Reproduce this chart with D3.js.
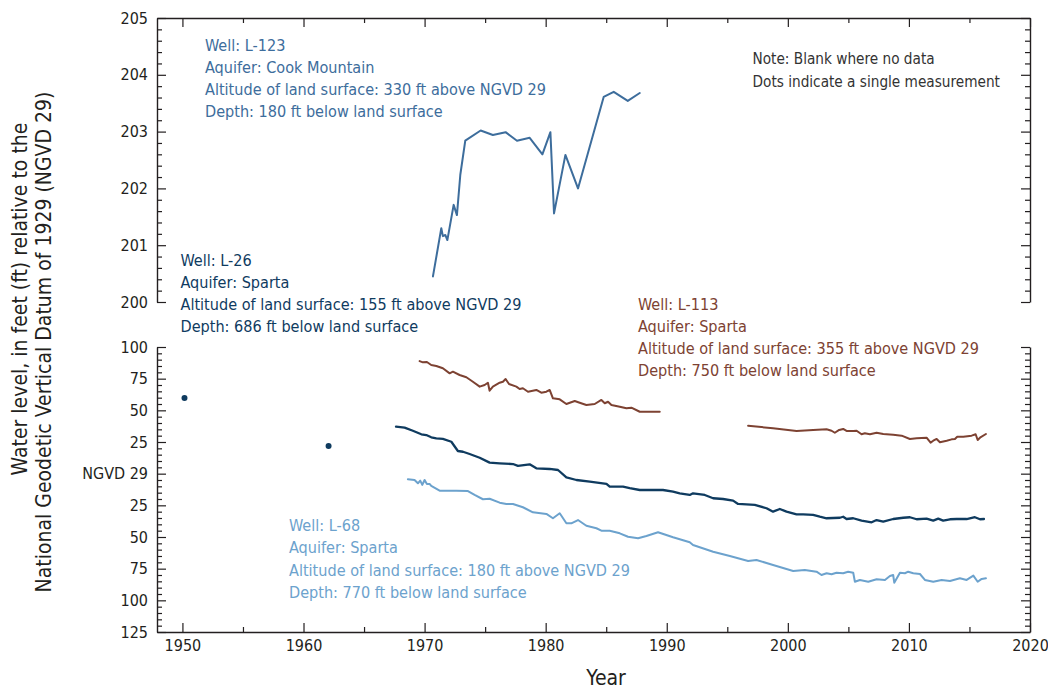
<!DOCTYPE html>
<html>
<head>
<meta charset="utf-8">
<script src="https://cdn.jsdelivr.net/npm/d3@7"></script>
<style>
  html, body { margin: 0; padding: 0; background: #fff; }
  svg { display: block; }
  text { font-family: "Liberation Sans Narrow", "Arial Narrow", "DejaVu Sans Condensed", sans-serif; }
</style>
</head>
<body>
<svg id="chart" width="1048" height="690"></svg>
<script>
// ---------------- Data ----------------
const xMajorTicks = [1950, 1960, 1970, 1980, 1990, 2000, 2010, 2020];
const xMinorTicks = [1955, 1965, 1975, 1985, 1995, 2005, 2015];
const topMajorTicks = [200, 201, 202, 203, 204, 205];
const bottomMajorTicks = [100, 75, 50, 25, 0, -25, -50, -75, -100, -125];
const bottomTickLabels = ["100", "75", "50", "25", "NGVD 29", "25", "50", "75", "100", "125"];

// Well L-123 (Cook Mountain) - top panel
const l123Years = [1970.69,1971.38,1971.51,1971.71,1971.88,1972.40,1972.67,1972.95,1973.36,1974.63,1975.64,1976.69,1977.63,1978.68,1979.73,1980.39,1980.69,1981.63,1982.67,1984.79,1985.62,1986.78,1987.77];
const l123Values = [200.45,201.30,201.16,201.18,201.09,201.71,201.53,202.24,202.84,203.02,202.94,202.99,202.84,202.89,202.60,202.99,201.56,202.59,202.00,203.61,203.70,203.54,203.68];

// Well L-113 (Sparta) - null marks a gap with no data
const l113Years = [1969.59,1969.86,1970.19,1970.55,1970.97,1971.51,1972.07,1972.34,1972.89,1973.45,1973.99,1974.55,1974.96,1975.23,1975.37,1975.64,1976.20,1976.47,1976.69,1976.97,1977.58,1977.85,1978.12,1978.54,1979.23,1979.64,1980.06,1980.33,1980.60,1981.16,1981.71,1982.40,1982.81,1983.36,1984.05,1984.60,1984.88,1985.15,1985.43,1986.12,1986.67,1987.08,1987.77,1989.42,
  1993.0,
  1996.72,1998.78,2000.72,2002.09,2003.20,2003.61,2003.88,2004.24,2004.57,2004.85,2005.40,2005.68,2006.09,2006.36,2006.78,2007.33,2007.88,2008.70,2009.40,2010.08,2010.64,2011.46,2011.79,2012.01,2012.29,2012.56,2013.12,2013.53,2013.80,2013.99,2014.49,2015.18,2015.51,2015.68,2015.87,2016.36];
const l113Values = [88.9,87.9,88.2,85.8,85.0,83.2,79.2,80.5,77.9,76.1,72.6,68.7,70.0,71.8,65.5,68.7,71.8,72.6,74.7,70.8,68.7,66.8,67.4,64.7,66.1,63.9,64.7,66.1,59.5,58.7,55.0,57.4,56.0,54.2,55.0,58.2,55.6,56.8,54.2,52.9,51.6,52.1,48.9,48.9,
  null,
  37.9,35.8,33.7,34.5,35.0,33.9,32.3,34.5,35.3,33.7,33.7,33.9,31.1,31.9,31.1,32.3,31.3,30.8,30.0,27.4,27.9,28.4,24.5,26.0,27.4,24.8,26.0,27.1,27.4,29.2,29.2,30.0,31.1,26.6,28.4,31.3];

// Well L-26 (Sparta)
const l26Years = [1967.64,1968.35,1969.03,1969.73,1970.14,1970.55,1970.97,1971.51,1972.21,1972.75,1973.17,1973.72,1974.55,1975.37,1976.20,1977.30,1977.71,1978.68,1979.23,1980.33,1981.02,1981.71,1982.54,1983.64,1985.02,1985.29,1986.39,1986.94,1987.77,1989.69,1990.52,1991.07,1991.90,1992.17,1993.14,1993.83,1994.65,1995.48,1995.89,1997.27,1998.24,1998.78,1999.34,1999.89,2000.72,2001.26,2002.09,2002.64,2003.20,2004.30,2004.57,2004.85,2005.40,2006.09,2006.92,2007.33,2007.88,2008.70,2009.53,2010.08,2010.64,2011.46,2012.01,2012.42,2012.83,2013.39,2013.94,2014.77,2015.45,2015.87,2016.20];
const l26Values = [37.1,36.3,33.9,31.1,30.5,28.7,27.9,27.4,25.2,17.9,17.3,15.5,12.6,8.7,8.2,7.6,6.1,7.4,4.2,3.7,2.9,-2.9,-5.0,-6.3,-8.1,-10.3,-10.3,-11.5,-12.9,-12.9,-14.2,-15.5,-16.8,-15.5,-16.8,-19.4,-20.0,-21.3,-23.9,-24.7,-27.3,-30.0,-27.9,-30.0,-32.1,-32.1,-32.6,-34.0,-35.2,-34.8,-34.0,-35.8,-35.2,-37.1,-38.4,-36.6,-37.9,-35.8,-34.8,-34.4,-36.0,-35.5,-37.1,-35.5,-37.1,-36.0,-35.8,-35.8,-34.4,-36.0,-35.8];
const l26DotYears = [1950.17, 1962.07];
const l26DotValues = [59.7, 21.8];

// Well L-68 (Sparta)
const l68Years = [1968.62,1969.17,1969.45,1969.64,1969.81,1970.00,1970.19,1970.41,1970.55,1971.24,1972.62,1973.58,1974.13,1974.82,1975.37,1976.20,1976.75,1977.30,1978.12,1978.95,1980.06,1980.60,1981.16,1981.71,1982.12,1982.67,1983.36,1984.19,1984.60,1985.29,1986.12,1986.80,1987.63,1988.32,1989.28,1990.52,1991.90,1992.17,1993.83,1995.21,1996.72,1997.41,1998.78,2000.44,2001.40,2002.37,2002.78,2003.20,2003.61,2004.02,2004.57,2004.98,2005.40,2005.54,2005.95,2006.64,2007.33,2008.02,2008.43,2008.70,2008.79,2009.26,2009.67,2009.94,2010.36,2010.91,2011.32,2012.01,2012.70,2013.39,2014.21,2014.77,2015.32,2015.68,2016.01,2016.36];
const l68Values = [-4.4,-5.0,-7.6,-5.5,-8.9,-5.0,-8.1,-8.1,-9.7,-13.4,-13.4,-13.7,-16.8,-20.2,-19.8,-22.9,-23.9,-23.9,-26.5,-30.5,-31.8,-35.2,-31.3,-39.2,-39.2,-36.6,-41.1,-43.1,-45.0,-45.0,-47.1,-49.8,-51.0,-49.2,-46.3,-50.2,-54.2,-56.3,-61.6,-65.0,-68.9,-68.1,-72.1,-76.8,-76.0,-77.4,-80.0,-78.6,-79.4,-78.2,-78.6,-77.4,-78.2,-85.3,-83.9,-85.3,-83.4,-83.9,-80.8,-80.0,-86.1,-78.2,-78.6,-77.4,-78.6,-79.2,-83.9,-85.3,-83.9,-84.7,-82.6,-83.9,-80.5,-85.3,-83.1,-82.6];

// Annotation texts
const l123Label = ["Well: L-123", "Aquifer: Cook Mountain", "Altitude of land surface: 330 ft above NGVD 29", "Depth: 180 ft below land surface"];
const l26Label = ["Well: L-26", "Aquifer: Sparta", "Altitude of land surface: 155 ft above NGVD 29", "Depth: 686 ft below land surface"];
const l113Label = ["Well: L-113", "Aquifer: Sparta", "Altitude of land surface: 355 ft above NGVD 29", "Depth: 750 ft below land surface"];
const l68Label = ["Well: L-68", "Aquifer: Sparta", "Altitude of land surface: 180 ft above NGVD 29", "Depth: 770 ft below land surface"];
const noteLabel = ["Note: Blank where no data", "Dots indicate a single measurement"];
const yTitle = ["Water level, in feet (ft) relative to the", "National Geodetic Vertical Datum of 1929 (NGVD 29)"];
const xTitle = "Year";

// ---------------- Layout ----------------
const colors = { l123: "#3d6d9c", l26: "#0f3b5f", l113: "#7d4232", l68: "#6ca2cd", axis: "#231f20", note: "#333333" };
const left = 157, right = 1030;
const topPanel = { y0: 18, y1: 302 };
const botPanel = { y0: 347, y1: 632 };

const svg = d3.select("#chart");
const x = d3.scaleLinear().domain([1947.9, 2020]).range([left, right]);
const yTop = d3.scaleLinear().domain([200, 205]).range([topPanel.y1, topPanel.y0]);
const yBot = d3.scaleLinear().domain([-125, 100]).range([botPanel.y1, botPanel.y0]);

const MAJ = 9, MIN = 5;
const fontTick = 16;

function styleAxis(g) {
  g.selectAll(".domain").attr("stroke", colors.axis).attr("stroke-width", 1.4);
  g.selectAll(".tick line").attr("stroke", colors.axis).attr("stroke-width", 1.2);
  g.selectAll(".tick text").attr("fill", colors.axis).style("font-size", fontTick + "px")
    .style("font-family", '"Liberation Sans Narrow", "Arial Narrow", "DejaVu Sans Condensed", sans-serif');
  g.attr("font-family", null).attr("font-size", null);
}

function yAxes(scale, majors, minorStep, labels) {
  const [d0, d1] = scale.domain();
  const minors = d3.range(d0, d1 + 1e-9, minorStep).map(v => +v.toFixed(4)).filter(v => !majors.some(m => Math.abs(m - v) < 1e-6));
  const gl = svg.append("g").attr("transform", `translate(${left},0)`);
  gl.call(d3.axisLeft(scale).tickValues(majors).tickSize(-MAJ).tickSizeOuter(0).tickPadding(9)
    .tickFormat((d, i) => labels ? labels[i] : d3.format("d")(d)));
  styleAxis(gl);
  const glm = svg.append("g").attr("transform", `translate(${left},0)`);
  glm.call(d3.axisLeft(scale).tickValues(minors).tickSize(-MIN).tickSizeOuter(0).tickFormat(""));
  glm.select(".domain").remove();
  styleAxis(glm);
  const gr = svg.append("g").attr("transform", `translate(${right},0)`);
  gr.call(d3.axisRight(scale).tickValues(majors).tickSize(-MAJ).tickSizeOuter(0).tickFormat(""));
  styleAxis(gr);
  const grm = svg.append("g").attr("transform", `translate(${right},0)`);
  grm.call(d3.axisRight(scale).tickValues(minors).tickSize(-MIN).tickSizeOuter(0).tickFormat(""));
  grm.select(".domain").remove();
  styleAxis(grm);
}

// Top panel axes
yAxes(yTop, topMajorTicks, 0.2, null);
const gTopX = svg.append("g").attr("transform", `translate(0,${topPanel.y0})`);
gTopX.call(d3.axisTop(x).tickValues(xMajorTicks).tickSize(-MAJ).tickSizeOuter(0).tickFormat(""));
styleAxis(gTopX);
const gTopXm = svg.append("g").attr("transform", `translate(0,${topPanel.y0})`);
gTopXm.call(d3.axisTop(x).tickValues(xMinorTicks).tickSize(-MIN).tickSizeOuter(0).tickFormat(""));
gTopXm.select(".domain").remove();
styleAxis(gTopXm);

// Bottom panel axes
yAxes(yBot, bottomMajorTicks, 5, bottomTickLabels);
const gBotX = svg.append("g").attr("transform", `translate(0,${botPanel.y1})`);
gBotX.call(d3.axisBottom(x).tickValues(xMajorTicks).tickSize(-MAJ).tickSizeOuter(0).tickPadding(8).tickFormat(d3.format("d")));
styleAxis(gBotX);
gBotX.selectAll(".tick text").attr("dy", "0.71em");
const gBotXm = svg.append("g").attr("transform", `translate(0,${botPanel.y1})`);
gBotXm.call(d3.axisBottom(x).tickValues(xMinorTicks).tickSize(-MIN).tickSizeOuter(0).tickFormat(""));
gBotXm.select(".domain").remove();
styleAxis(gBotXm);

// ---------------- Series ----------------
function drawLine(years, values, yScale, color, w) {
  const data = years.map((yr, i) => ({ yr, v: values[i] }));
  const line = d3.line().defined(d => d.v != null).x(d => x(d.yr)).y(d => yScale(d.v));
  svg.append("path").datum(data).attr("fill", "none").attr("stroke", color)
    .attr("stroke-width", w).attr("stroke-linejoin", "round").attr("stroke-linecap", "round").attr("d", line);
}
drawLine(l123Years, l123Values, yTop, colors.l123, 2);
drawLine(l113Years, l113Values, yBot, colors.l113, 2);
drawLine(l68Years, l68Values, yBot, colors.l68, 2);
drawLine(l26Years, l26Values, yBot, colors.l26, 2.3);
svg.selectAll("circle.dot").data(l26DotYears.map((yr, i) => ({ yr, v: l26DotValues[i] })))
  .enter().append("circle").attr("class", "dot")
  .attr("cx", d => x(d.yr)).attr("cy", d => yBot(d.v)).attr("r", 3).attr("fill", colors.l26);

// ---------------- Text ----------------
function block(lines, x0, y0, dy, color, size) {
  const t = svg.append("text").attr("x", x0).attr("y", y0).attr("fill", color).style("font-size", size + "px");
  lines.forEach((s, i) => t.append("tspan").attr("x", x0).attr("y", y0 + i * dy).text(s));
}
const annSize = 16.1;
block(l123Label, 205, 51, 22, colors.l123, annSize);
block(l26Label, 180.5, 266, 22, colors.l26, annSize);
block(l113Label, 638, 310, 22, colors.l113, annSize);
block(l68Label, 289, 531, 22.4, colors.l68, annSize);
block(noteLabel, 752.5, 63.5, 23.5, colors.note, 15.2);

// Axis titles
svg.append("text").attr("x", 606).attr("y", 685).attr("text-anchor", "middle")
  .attr("fill", colors.axis).style("font-size", "21px").text(xTitle);
svg.append("text").attr("transform", "translate(27,299) rotate(-90)").attr("text-anchor", "middle")
  .attr("fill", colors.axis).style("font-size", "21px").text(yTitle[0]);
svg.append("text").attr("transform", "translate(51,342) rotate(-90)").attr("text-anchor", "middle")
  .attr("fill", colors.axis).style("font-size", "21px").text(yTitle[1]);
</script>
</body>
</html>
